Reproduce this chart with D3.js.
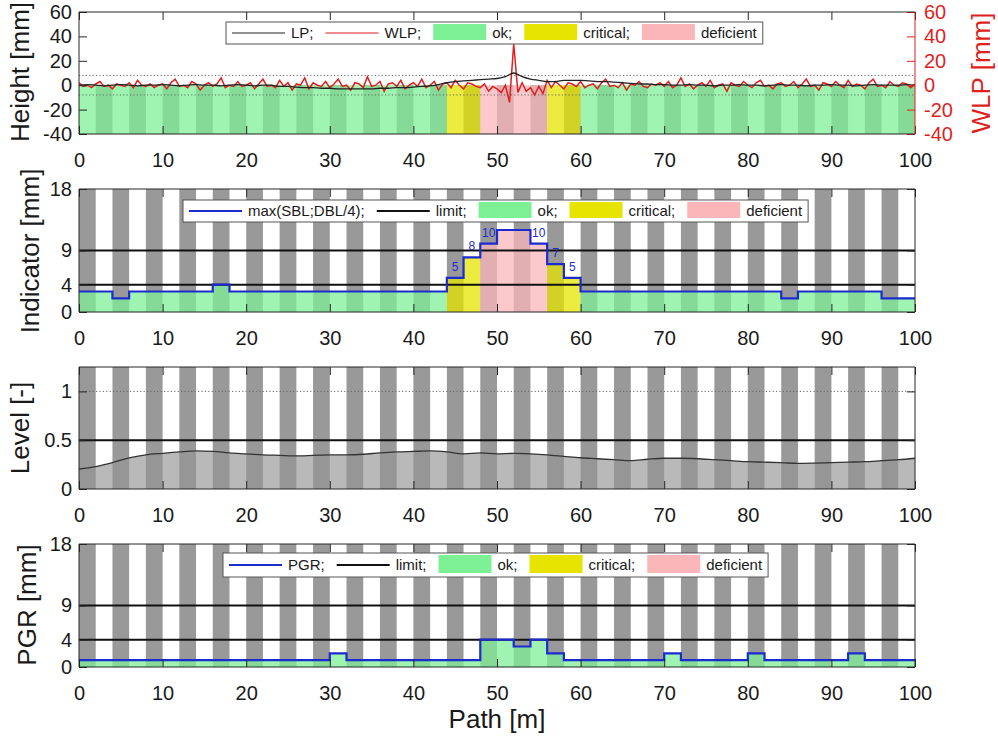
<!DOCTYPE html>
<html><head><meta charset="utf-8">
<script src="https://cdn.jsdelivr.net/npm/d3@7"></script>
<style>
body{margin:0;background:#fff}
text{font-family:"Liberation Sans",Arial,sans-serif}
</style>
</head><body>
<svg id="c" width="998" height="737"></svg>
<script>
// ---------------- DATA ----------------
const xTicks = [0,10,20,30,40,50,60,70,80,90,100];
const heightTicks = [-40,-20,0,20,40,60];
const indTicks = [0,4,9,18];
const levelTicks = [0,0.5,1];
const pgrTicks = [0,4,9,18];

// WLP (red) sampled every 0.5 m from 0 to 100
const wlpStep = 0.5;
const wlp = [
 2,-1,0,-2,1,3,-1,0,-3,1,0,-1,2,-2,4,0,-1,1,-2,0,
 1,-3,2,5,-1,0,-2,3,1,-4,0,2,-1,1,6,-2,0,-1,3,-1,
 0,2,-3,1,5,-1,0,-2,4,-1,2,-4,1,0,6,-3,2,0,-1,3,
 -2,1,5,-1,0,-4,2,1,-2,7,-1,0,3,-5,1,2,-1,4,-3,0,
 2,-1,5,-2,0,3,-4,1,2,-2,4,0,-3,2,1,-1,
 -2,1,-5,-1,-3,-6,0,-14,34,-6,2,-5,-2,-8,-1,-7,
 4,-2,3,0,-3,2,1,-1,
 3,-2,0,1,-3,2,5,-1,0,-2,2,-4,1,0,3,-1,-2,1,0,2,
 -1,3,-2,0,6,-1,1,-3,0,2,-1,4,-2,0,1,-5,2,0,-1,3,
 0,-2,2,4,-1,0,-3,1,2,-1,0,3,-2,1,5,-1,0,-4,2,1,
 -1,3,0,-2,4,-1,1,0,-3,2,5,-1,0,-2,3,0,-1,2,1,-2,
 1
];
// LP (black) sampled every 1 m
const lpStep = 1;
const lp = [
 0,0.5,0,-0.5,0,0.5,0,-0.5,0,0,
 0.5,0,-0.5,0,0.5,0,0,-0.5,0,0.5,
 0,-0.5,0,0,-1,-1,-1.5,-2,-2,-2.5,
 -2.5,-3,-3,-3,-3,-3,-2.5,-2.5,-2,-2,
 -1.5,-1,-0.5,0.5,2,3,3.5,4,4.5,5,
 5.5,7,10,7,5,4,3,3,4,4,
 4,3.5,3,3,2.5,2,1.5,1,1,0.5,
 0.5,0,0,0.5,0,0,-0.5,0,0,0.5,
 0,0,-0.5,0,0.5,0,0,-0.5,0,0,
 0.5,0,0,-0.5,0,0.5,0,0,0,0.5,
 0
];
const heightBand = [-8, 8];

// classification segments (panels 1 and 2)
const classStart = [0,44,48,56,60];
const classEnd   = [44,48,56,60,100];
const classType  = ["ok","critical","deficient","critical","ok"];

// Indicator max(SBL;DBL/4) step function
const indBreaks = [0,4,6,16,18,44,46,48,50,54,56,58,60,84,86,96,100];
const indValues = [3,2,3,4,3,5,8,10,12,10,7,5,3,2,3,2];
const indLabelIdx = [5,6,7,9,10,11];
const indLimits = [4,9];

// Level curve, every 2 m
const levelX = [0,2,4,6,8,10,12,14,16,18,20,22,24,26,28,30,32,34,36,38,40,42,44,46,48,50,
  52,54,56,58,60,62,64,66,68,70,72,74,76,78,80,82,84,86,88,90,92,94,96,98,100];
const levelY = [0.205,0.23,0.27,0.32,0.35,0.366,0.38,0.39,0.385,0.37,0.36,0.35,0.345,0.34,0.345,0.35,
  0.35,0.356,0.37,0.38,0.385,0.39,0.38,0.36,0.37,0.36,0.365,0.36,0.35,0.335,0.32,0.31,0.30,0.29,0.305,
  0.315,0.315,0.31,0.30,0.29,0.28,0.275,0.27,0.262,0.265,0.27,0.275,0.28,0.29,0.30,0.315];
const levelLimit = 0.5;
const levelRef = 1;

// PGR step function
const pgrBreaks = [0,30,32,48,52,54,56,58,70,72,80,82,92,94,100];
const pgrValues = [1,2,1,4,3,4,2,1,2,1,2,1,2,1];
const pgrLimits = [4,9];
const pgrClassStart = [0];
const pgrClassEnd = [100];
const pgrClassType = ["ok"];

// ---------------- STYLE ----------------
const classColor = {ok:"#7df096", critical:"#e6e400", deficient:"#fab6b9"};
const stripeGray = "#999999";
const blue = "#1c2bd0";
const red = "#e01f1f";
const axisCol = "#262626";
const L = 79, R = 915;

const svg = d3.select("#c");
const x = d3.scaleLinear().domain([0,100]).range([L,R]);

function stepPoints(breaks, values){
  const pts = values.map((v,i)=>[breaks[i], v]);
  pts.push([breaks[breaks.length-1], values[values.length-1]]);
  return pts;
}

let clipId = 0;
function clipRect(x0,x1,y0,y1){
  const id = "cp"+(clipId++);
  svg.append("clipPath").attr("id",id).append("rect")
    .attr("x",x0).attr("y",y0).attr("width",x1-x0).attr("height",y1-y0);
  return "url(#"+id+")";
}

function stripes(g, y, lo, hi, phase){
  const starts = d3.range(phase, 100, 4);
  g.append("g").selectAll("rect").data(starts).join("rect")
    .attr("x", d=>x(d)).attr("width", d=>x(Math.min(d+2,100))-x(d))
    .attr("y", y(hi)).attr("height", y(lo)-y(hi))
    .attr("fill", stripeGray);
}

function axes(g, y, yTicks, top, bottom, opts={}){
  const fmt = opts.fmt || (d=>d);
  const xb = g.append("g").attr("transform",`translate(0,${bottom})`)
    .call(d3.axisBottom(x).tickValues(xTicks).tickSize(-8).tickPadding(19));
  const xt = g.append("g").attr("transform",`translate(0,${top})`)
    .call(d3.axisTop(x).tickValues(xTicks).tickSize(-8).tickFormat(""));
  const yl = g.append("g").attr("transform",`translate(${L},0)`)
    .call(d3.axisLeft(y).tickValues(yTicks).tickSize(-8).tickPadding(7).tickFormat(fmt));
  const yr = g.append("g").attr("transform",`translate(${R},0)`)
    .call(opts.right ? d3.axisRight(y).tickValues(yTicks).tickSize(-8).tickPadding(9).tickFormat(fmt)
                     : d3.axisRight(y).tickValues(yTicks).tickSize(-8).tickFormat(""));
  [xb,xt,yl,yr].forEach(a=>{
    a.select(".domain").remove();
    a.selectAll("line").attr("stroke",axisCol);
    a.selectAll("text").attr("font-size",20).attr("fill","#1a1a1a")
      .style("font-family",'"Liberation Sans",Arial,sans-serif');
  });
  if(opts.right){
    yr.selectAll("line").attr("stroke",red);
    yr.selectAll("text").attr("fill",red);
  }
  g.append("line").attr("x1",L).attr("x2",R).attr("y1",top).attr("y2",top).attr("stroke",axisCol);
  g.append("line").attr("x1",L).attr("x2",R).attr("y1",bottom).attr("y2",bottom).attr("stroke",axisCol);
  g.append("line").attr("x1",L).attr("x2",L).attr("y1",top).attr("y2",bottom).attr("stroke",axisCol);
  g.append("line").attr("x1",R).attr("x2",R).attr("y1",top).attr("y2",bottom).attr("stroke",opts.right?red:axisCol);
}

function yTitle(text, cx, cy, color){
  svg.append("text").attr("transform",`translate(${cx},${cy}) rotate(-90)`)
    .attr("text-anchor","middle").attr("dominant-baseline","central")
    .attr("font-size",26).attr("fill",color||"#1a1a1a").text(text);
}

function legend(x0, y0, h, items){
  const g = svg.append("g");
  const box = g.append("rect").attr("x",x0).attr("y",y0).attr("height",h)
    .attr("fill","#fff").attr("stroke","#555").attr("stroke-width",1);
  let cx = x0 + 6;
  items.forEach(it=>{
    if(it.type==="line"){
      g.append("line").attr("x1",cx).attr("x2",cx+53).attr("y1",y0+h/2).attr("y2",y0+h/2)
        .attr("stroke",it.color).attr("stroke-width",it.w||1.5);
    } else {
      g.append("rect").attr("x",cx).attr("y",y0+2).attr("width",53).attr("height",h-6)
        .attr("fill",it.color);
    }
    cx += 59;
    const t = g.append("text").attr("x",cx).attr("y",y0+h/2+5).attr("font-size",15)
      .attr("fill","#1a1a1a").text(it.label);
    cx += t.node().getComputedTextLength() + 12;
  });
  box.attr("width", cx - 12 + 6 - x0);
}

const classItems = [
  {type:"rect",color:classColor.ok,label:"ok;"},
  {type:"rect",color:classColor.critical,label:"critical;"},
  {type:"rect",color:classColor.deficient,label:"deficient"}
];

// ---------------- PANEL 1 ----------------
{
  const top=12, bottom=134;
  const y = d3.scaleLinear().domain([-40,60]).range([bottom,top]);
  const g = svg.append("g");
  stripes(g, y, -40, 0, 2);
  classStart.forEach((s,i)=>{
    g.append("rect").attr("x",x(s)).attr("width",x(classEnd[i])-x(s))
      .attr("y",y(0)).attr("height",y(-40)-y(0))
      .attr("fill",classColor[classType[i]]).attr("fill-opacity",0.75);
  });
  heightBand.forEach(v=>{
    g.append("line").attr("x1",L).attr("x2",R).attr("y1",y(v)).attr("y2",y(v))
      .attr("stroke","#666").attr("stroke-dasharray","1.2,2.2").attr("stroke-width",1);
  });
  const clip = clipRect(L,R,top,bottom);
  g.append("path").datum(wlp).attr("clip-path",clip)
    .attr("d", d3.line().x((d,i)=>x(i*wlpStep)).y(d=>y(d)))
    .attr("fill","none").attr("stroke",red).attr("stroke-width",1.5);
  g.append("path").datum(lp).attr("clip-path",clip)
    .attr("d", d3.line().curve(d3.curveMonotoneX).x((d,i)=>x(i*lpStep)).y(d=>y(d)))
    .attr("fill","none").attr("stroke","#222").attr("stroke-width",1.3);
  axes(g, y, heightTicks, top, bottom, {right:true});
  yTitle("Height [mm]", 20, 72);
  yTitle("WLP [mm]", 981, 73, red);
  legend(226, 22, 22, [
    {type:"line",color:"#222",label:"LP;",w:1.2},
    {type:"line",color:red,label:"WLP;",w:1.2},
    ...classItems]);
}

// ---------------- PANEL 2 ----------------
{
  const top=189, bottom=312;
  const y = d3.scaleLinear().domain([0,18]).range([bottom,top]);
  const g = svg.append("g");
  stripes(g, y, 0, 18, 0);
  const pts = stepPoints(indBreaks, indValues);
  const area = d3.area().curve(d3.curveStepAfter).x(d=>x(d[0])).y0(y(0)).y1(d=>y(d[1]));
  classStart.forEach((s,i)=>{
    g.append("path").datum(pts).attr("d",area)
      .attr("clip-path", clipRect(x(s),x(classEnd[i]),top,bottom))
      .attr("fill",classColor[classType[i]]).attr("fill-opacity",0.75);
  });
  indLimits.forEach(v=>{
    g.append("line").attr("x1",L).attr("x2",R).attr("y1",y(v)).attr("y2",y(v))
      .attr("stroke","#111").attr("stroke-width",2);
  });
  g.append("path").datum(pts)
    .attr("d", d3.line().curve(d3.curveStepAfter).x(d=>x(d[0])).y(d=>y(d[1])))
    .attr("fill","none").attr("stroke",blue).attr("stroke-width",2.2);
  g.append("g").selectAll("text").data(indLabelIdx).join("text")
    .attr("x", i=>x((indBreaks[i]+indBreaks[i+1])/2))
    .attr("y", i=>y(indValues[i])-7)
    .attr("text-anchor","middle").attr("font-size",12).attr("fill",blue)
    .text(i=>indValues[i]);
  axes(g, y, indTicks, top, bottom);
  yTitle("Indicator [mm]", 30, 251);
  legend(183, 200, 22, [
    {type:"line",color:blue,label:"max(SBL;DBL/4);",w:2},
    {type:"line",color:"#111",label:"limit;",w:2},
    ...classItems]);
}

// ---------------- PANEL 3 ----------------
{
  const top=367, bottom=489;
  const y = d3.scaleLinear().domain([0,1.25]).range([bottom,top]);
  const g = svg.append("g");
  stripes(g, y, 0, 1.25, 0);
  const pts = levelX.map((d,i)=>[d, levelY[i]]);
  g.append("path").datum(pts)
    .attr("d", d3.area().curve(d3.curveMonotoneX).x(d=>x(d[0])).y0(y(0)).y1(d=>y(d[1])))
    .attr("fill","rgb(148,148,148)").attr("fill-opacity",0.66);
  g.append("line").attr("x1",L).attr("x2",R).attr("y1",y(levelRef)).attr("y2",y(levelRef))
    .attr("stroke","#666").attr("stroke-dasharray","1.2,2.2");
  g.append("line").attr("x1",L).attr("x2",R).attr("y1",y(levelLimit)).attr("y2",y(levelLimit))
    .attr("stroke","#111").attr("stroke-width",2);
  g.append("path").datum(pts)
    .attr("d", d3.line().curve(d3.curveMonotoneX).x(d=>x(d[0])).y(d=>y(d[1])))
    .attr("fill","none").attr("stroke","#333").attr("stroke-width",1.3);
  axes(g, y, levelTicks, top, bottom);
  yTitle("Level [-]", 20, 428);
}

// ---------------- PANEL 4 ----------------
{
  const top=544, bottom=667;
  const y = d3.scaleLinear().domain([0,18]).range([bottom,top]);
  const g = svg.append("g");
  stripes(g, y, 0, 18, 0);
  const pts = stepPoints(pgrBreaks, pgrValues);
  const area = d3.area().curve(d3.curveStepAfter).x(d=>x(d[0])).y0(y(0)).y1(d=>y(d[1]));
  pgrClassStart.forEach((s,i)=>{
    g.append("path").datum(pts).attr("d",area)
      .attr("clip-path", clipRect(x(s),x(pgrClassEnd[i]),top,bottom))
      .attr("fill",classColor[pgrClassType[i]]).attr("fill-opacity",0.75);
  });
  pgrLimits.forEach(v=>{
    g.append("line").attr("x1",L).attr("x2",R).attr("y1",y(v)).attr("y2",y(v))
      .attr("stroke","#111").attr("stroke-width",2);
  });
  g.append("path").datum(pts)
    .attr("d", d3.line().curve(d3.curveStepAfter).x(d=>x(d[0])).y(d=>y(d[1])))
    .attr("fill","none").attr("stroke",blue).attr("stroke-width",2.2);
  axes(g, y, pgrTicks, top, bottom);
  yTitle("PGR [mm]", 27, 605);
  legend(223, 553, 24, [
    {type:"line",color:blue,label:"PGR;",w:2},
    {type:"line",color:"#111",label:"limit;",w:2},
    ...classItems]);
  svg.append("text").attr("x",497).attr("y",728).attr("text-anchor","middle")
    .attr("font-size",26).attr("fill","#1a1a1a").text("Path [m]");
}
</script>
</body></html>
